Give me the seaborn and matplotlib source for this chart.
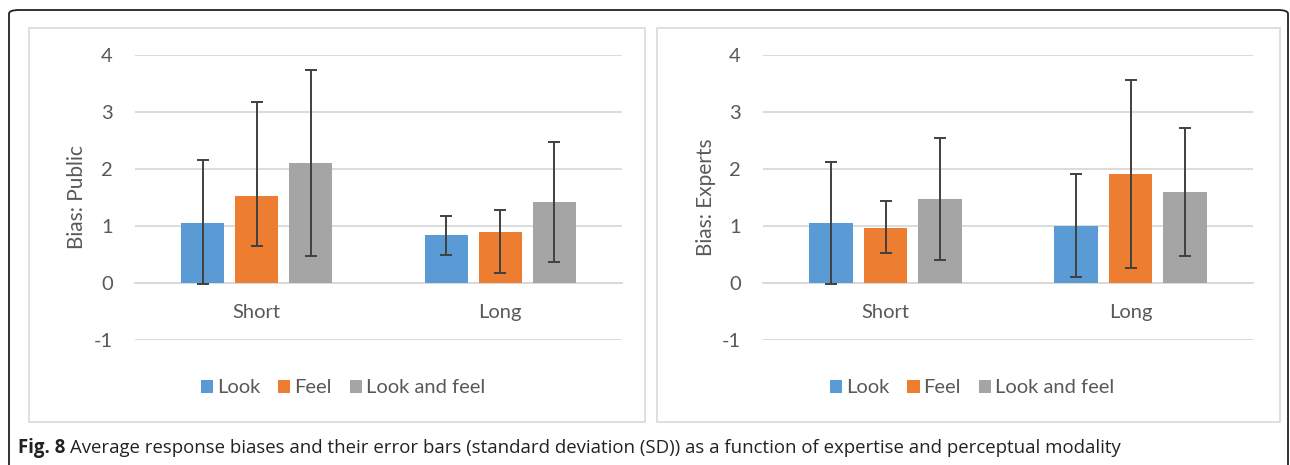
import numpy as np
import pandas as pd
import matplotlib
matplotlib.use("Agg")
import matplotlib.pyplot as plt
from matplotlib.patches import FancyBboxPatch, Rectangle
from matplotlib.container import BarContainer
import seaborn as sns

# ---- data ----
durations = ["Short", "Long"]
modalities = ["Look", "Feel", "Look and feel"]

public_means = {"Short": [1.06, 1.52, 2.10], "Long": [0.84, 0.90, 1.42]}
public_upper = {"Short": [2.15, 3.17, 3.73], "Long": [1.18, 1.28, 2.47]}
public_lower = {"Short": [-0.02, 0.65, 0.48], "Long": [0.50, 0.18, 0.37]}

experts_means = {"Short": [1.05, 0.97, 1.47], "Long": [1.00, 1.91, 1.59]}
experts_upper = {"Short": [2.12, 1.43, 2.54], "Long": [1.91, 3.56, 2.72]}
experts_lower = {"Short": [-0.02, 0.53, 0.40], "Long": [0.10, 0.26, 0.47]}

ylabels = ["Bias: Public", "Bias: Experts"]
yticks = [-1, 0, 1, 2, 3, 4]
colors = ["#5B9BD5", "#ED7D31", "#A5A5A5"]
caption_bold = "Fig. 8"
caption_text = ("Average response biases and their error bars (standard deviation (SD)) "
                "as a function of expertise and perceptual modality")

sns.set_theme(style="white")
plt.rcParams["font.family"] = ["Lato", "DejaVu Sans"]

W, H = 1290, 465
fig = plt.figure(figsize=(W / 100, H / 100), dpi=100)

def fx(px):
    return px / W

def fy(py):
    return 1 - py / H

# outer rounded border
outer = FancyBboxPatch((fx(9), fy(480)), fx(1288) - fx(9), fy(10) - fy(480),
                       boxstyle="round,pad=0,rounding_size=0.008",
                       transform=fig.transFigure, fill=False, edgecolor="#222222",
                       linewidth=1.3, zorder=0)
fig.patches.append(outer)

# chart frames
for (x0, x1) in [(29, 645), (657, 1280)]:
    fr = Rectangle((fx(x0), fy(422)), fx(x1) - fx(x0), fy(28) - fy(422),
                   transform=fig.transFigure, fill=False, edgecolor="#D9D9D9",
                   linewidth=1.2, zorder=0)
    fig.patches.append(fr)

def make_df(means):
    rows = []
    for d in durations:
        for m, v in zip(modalities, means[d]):
            rows.append({"Duration": d, "Modality": m, "Bias": v})
    return pd.DataFrame(rows)

panels = [
    (public_means, public_upper, public_lower, [135, 622], -0.098),
    (experts_means, experts_upper, experts_lower, [763, 1253], -0.096),
]

FS = 14.5

for k, (means, upper, lower, (xl, xr), lab_x) in enumerate(panels):
    ax = fig.add_axes([fx(xl), fy(340), fx(xr) - fx(xl), fy(55) - fy(340)])
    df = make_df(means)
    sns.barplot(data=df, x="Duration", y="Bias", hue="Modality",
                order=durations, hue_order=modalities, palette=colors,
                width=0.666, gap=0.2, errorbar=None, linewidth=0,
                saturation=1, ax=ax)
    bar_conts = [c for c in ax.containers if isinstance(c, BarContainer)]
    # error bars placed at bar centres
    for i, cont in enumerate(bar_conts):
        xs, ys, lo, hi = [], [], [], []
        for j, bar in enumerate(cont.patches):
            d = durations[j]
            xs.append(bar.get_x() + bar.get_width() / 2)
            ys.append(bar.get_height())
            lo.append(bar.get_height() - lower[d][i])
            hi.append(upper[d][i] - bar.get_height())
        ax.errorbar(xs, ys, yerr=[lo, hi], fmt="none", ecolor="#404040",
                    elinewidth=1.4, capsize=4, capthick=1.4, zorder=5)
    ax.set_ylim(-1, 4)
    ax.set_xlim(-0.5, 1.5)
    ax.set_yticks(yticks)
    ax.set_yticklabels([str(t) for t in yticks])
    ax.grid(axis="y", color="#D9D9D9", linewidth=1.3)
    ax.set_axisbelow(True)
    for s in ["top", "right", "left"]:
        ax.spines[s].set_visible(False)
    ax.spines["bottom"].set_position(("data", 0))
    ax.spines["bottom"].set_color("#D9D9D9")
    ax.spines["bottom"].set_linewidth(1.3)
    ax.spines["bottom"].set_zorder(0.5)
    ax.tick_params(axis="both", length=0, labelsize=FS, labelcolor="#595959")
    ax.tick_params(axis="x", pad=15)
    ax.tick_params(axis="y", pad=16)
    ax.set_xlabel("")
    ax.set_ylabel(ylabels[k], fontsize=15, color="#595959")
    ax.yaxis.set_label_coords(lab_x, 0.5)
    ax.set_facecolor("none")
    sns.move_legend(ax, "center", bbox_to_anchor=(0.427, -0.168), ncol=3,
                    frameon=False, title=None, fontsize=FS,
                    handlelength=0.6, handleheight=0.6, handletextpad=0.2,
                    columnspacing=0.9, labelcolor="#595959")

# caption
fig.canvas.draw()
renderer = fig.canvas.get_renderer()
cap_fam = ["Open Sans", "DejaVu Sans"]
t1 = fig.text(fx(18), fy(448), caption_bold, fontsize=13.4, fontweight="bold",
              family=cap_fam, color="#222222", va="center", ha="left")
bb = t1.get_window_extent(renderer)
fig.text(fx(bb.x1 + 5), fy(448), caption_text, fontsize=13.4,
         family=cap_fam, color="#222222", va="center", ha="left")

fig.savefig("out.png", dpi=100)
